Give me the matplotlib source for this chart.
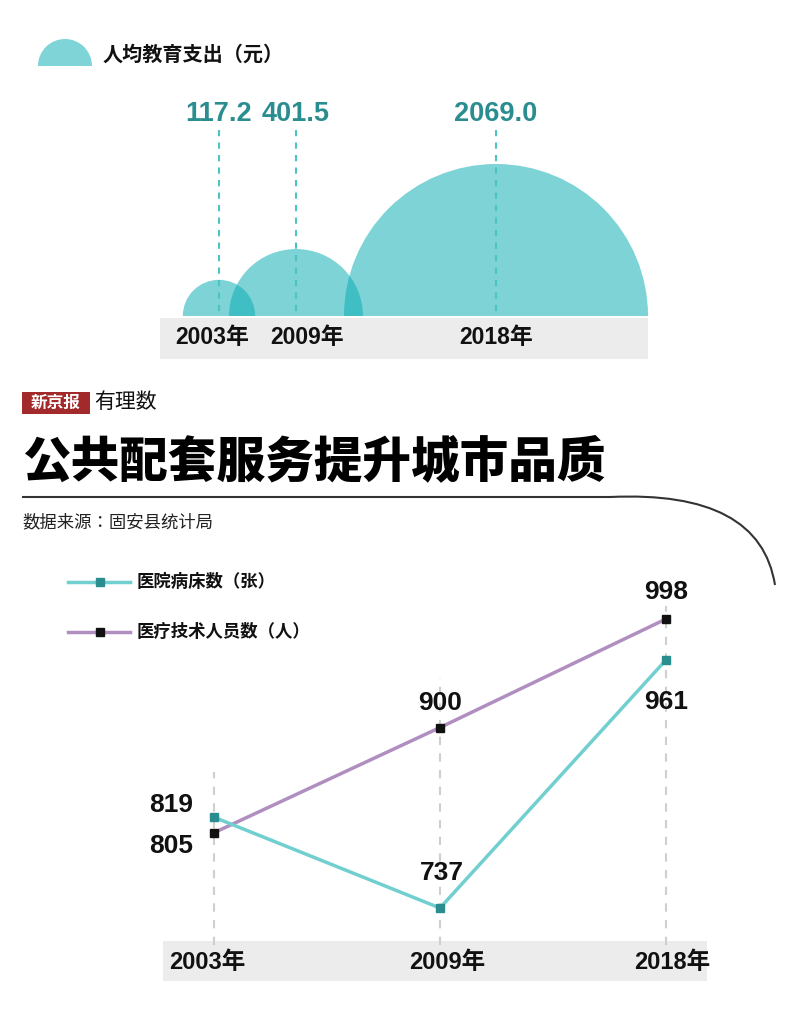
import numpy as np
import matplotlib
matplotlib.use("Agg")
import matplotlib.pyplot as plt
from matplotlib.patches import Wedge, Rectangle, PathPatch
from matplotlib.path import Path
from matplotlib import font_manager as fm

names = {f.name for f in fm.fontManager.ttflist}
cjk = [n for n in ["Noto Sans CJK SC", "Noto Sans CJK JP", "Noto Sans CJK TC", "Noto Sans CJK KR"] if n in names]
plt.rcParams["font.family"] = cjk + ["DejaVu Sans"]
NUMF = ["Liberation Sans", "DejaVu Sans"]
YRF = ["Liberation Sans"] + cjk

# ---- data ----
years = ["2003年", "2009年", "2018年"]
edu_spend = [117.2, 401.5, 2069.0]
edu_labels = ["117.2", "401.5", "2069.0"]
beds = [819, 737, 961]
staff = [805, 900, 998]

W, H = 800, 1036
fig = plt.figure(figsize=(8, 10.36), dpi=100)
bg = fig.add_axes([0, 0, 1, 1])
bg.set_xlim(0, W); bg.set_ylim(H, 0); bg.axis("off")

TEAL_C = (7/255, 172/255, 178/255)
VAL_C = "#2a8d8f"

# ---- top semicircle chart ----
bg.add_patch(Wedge((65, 66), 27, 180, 360, color="#7ed4d7", lw=0))
bg.text(103, 54, "人均教育支出（元）", fontsize=14.5, fontweight="bold", va="center", color="#111")
bg.add_patch(Rectangle((160, 318), 488, 41, color="#ececec", lw=0))
top_x = [219, 296, 496]
base_y = 316
k = 152 / np.sqrt(max(edu_spend))
for x, v, lab, yr in zip(top_x, edu_spend, edu_labels, years):
    r = k * np.sqrt(v)
    bg.add_patch(Wedge((x, base_y), r, 180, 360, color=TEAL_C, alpha=0.52, lw=0))
    bg.plot([x, x], [130, base_y], ls=(0, (3, 3)), color="#4cc4c4", lw=1.5)
    bg.text(x, 114, lab, fontsize=19.5, fontweight="bold", color=VAL_C, ha="center", va="center", family=NUMF)
for x, yr in zip([212, 307, 496], years):
    bg.text(x, 338, yr, fontsize=16.5, fontweight="bold", color="#111", ha="center", va="center", family=YRF)

# ---- header ----
bg.add_patch(Rectangle((22, 392), 68, 22, color="#a32a2a", lw=0))
bg.text(56, 403, "新京报", fontsize=12, fontweight="bold", color="white", ha="center", va="center")
bg.text(94, 402, "有理数", fontsize=15, color="#111", ha="left", va="center", style="italic")
bg.text(22, 462, "公共配套服务提升城市品质", fontsize=35, fontweight="black", color="#000", va="center")
verts = [(22, 497), (610, 497), (760, 490), (775, 585)]
codes = [Path.MOVETO, Path.LINETO, Path.CURVE3, Path.CURVE3]
bg.add_patch(PathPatch(Path(verts, codes), fill=False, ec="#333", lw=1.5))
bg.text(22, 522, "数据来源：固安县统计局", fontsize=12.5, color="#222", va="center")

# ---- legend lower ----
LINE_T = "#72cfd0"; LINE_P = "#b08fc0"
bg.plot([68, 130], [582, 582], color=LINE_T, lw=2.5)
bg.plot([100], [582], "s", color=VAL_C, ms=6)
bg.text(137, 582, "医院病床数（张）", fontsize=12.5, fontweight="bold", va="center", color="#111")
bg.plot([68, 130], [632, 632], color=LINE_P, lw=2.5)
bg.plot([100], [632], "s", color="#111", ms=6)
bg.text(137, 632, "医疗技术人员数（人）", fontsize=12.5, fontweight="bold", va="center", color="#111")

bg.add_patch(Rectangle((163, 941), 544, 40, color="#ececec", lw=0))

# ---- line chart ----
x0, x1, y0, y1 = 160, 710, 560, 945
ax = fig.add_axes([x0 / W, 1 - y1 / H, (x1 - x0) / W, (y1 - y0) / H])
ax.patch.set_alpha(0)
ax.axis("off")
xs = np.arange(len(years))
ax.set_xlim(-0.239, 2.195)
ax.set_ylim(703.6, 1051.3)
for xi, top in zip(xs, [860, 945, 1010]):
    ax.plot([xi, xi], [703.6, top], ls=(0, (4, 4)), color="#cfcfcf", lw=1.5, zorder=0)
ax.plot(xs, staff, color=LINE_P, lw=2.5, zorder=2)
ax.plot(xs, staff, "s", color="#111", ms=6, zorder=3)
ax.plot(xs, beds, color=LINE_T, lw=2.5, zorder=2)
ax.plot(xs, beds, "s", color=VAL_C, ms=6, zorder=3)
for xi, yr in zip([-0.03, 0.03, 0.03], years):
    ax.text(xs[years.index(yr)] + xi, 688, yr, fontsize=17, fontweight="bold", ha="center", va="center",
            color="#111", clip_on=False, family=YRF)
lab_kw = dict(fontsize=19, fontweight="bold", ha="center", va="center", color="#111", family=NUMF)
ax.text(-0.19, beds[0] + 11, str(beds[0]), **lab_kw)
ax.text(-0.19, staff[0] - 12, str(staff[0]), **lab_kw)
ax.text(1, staff[1] + 22, str(staff[1]), **lab_kw)
ax.text(1.01, beds[1] + 32, str(beds[1]), **lab_kw)
ax.text(2, staff[2] + 24, str(staff[2]), **lab_kw)
ax.text(2, beds[2] - 38, str(beds[2]), **lab_kw)

fig.savefig("out.png", dpi=100)
